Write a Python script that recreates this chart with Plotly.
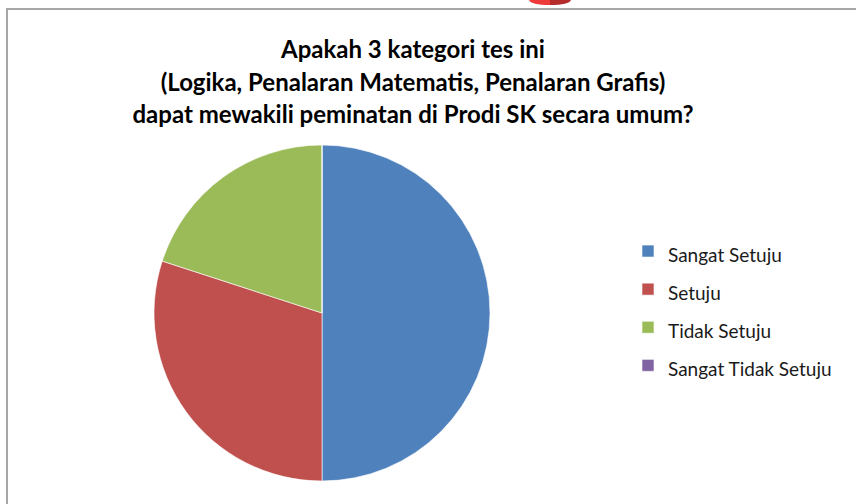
import plotly.graph_objects as go

categories = ["Sangat Setuju", "Setuju", "Tidak Setuju", "Sangat Tidak Setuju"]
values = [50, 30, 20, 0]
colors = ["#4f81bd", "#c0504d", "#9bbb59", "#8064a2"]
title_lines = [
    "Apakah 3 kategori tes ini",
    "(Logika, Penalaran Matematis, Penalaran Grafis)",
    "dapat mewakili peminatan di Prodi SK secara umum?",
]

W, H = 856, 504
labels = [f"<span style='font-size:19px'>{c}</span>" for c in categories]

fig = go.Figure(go.Pie(
    labels=labels,
    values=values,
    sort=False,
    direction="clockwise",
    rotation=0,
    marker=dict(colors=colors, line=dict(color="white", width=0.6)),
    textinfo="none",
    hoverinfo="label+value+percent",
    domain=dict(x=[(322 - 168) / W, (322 + 168) / W], y=[1 - 481 / H, 1 - 145 / H]),
))

title_text = "<br>".join(f"<span style='font-size:24px'>{t}</span>" for t in title_lines)

fig.update_layout(
    width=W, height=H,
    margin=dict(l=0, r=0, t=0, b=0),
    paper_bgcolor="white",
    font=dict(family="Lato, Carlito, Calibri, sans-serif", color="#000000"),
    title=dict(
        text="<b>" + title_text + "</b>",
        x=413 / W, xanchor="center",
        y=1 - 58 / H, yanchor="top",
        font=dict(size=25, family="Lato, sans-serif", color="#000000"),
    ),
    legend=dict(
        x=628 / W, xanchor="left",
        y=1 - 227 / H, yanchor="top",
        font=dict(size=27, family="Lato, sans-serif", color="#1a1a1a"),
        bgcolor="rgba(0,0,0,0)",
        itemclick=False,
    ),
    shapes=[
        dict(type="rect", xref="paper", yref="paper",
             x0=7 / W, x1=(W + 20) / W, y0=-20 / H, y1=1 - 9 / H,
             line=dict(color="#a6a6a6", width=2), layer="below"),
        dict(type="path", xref="paper", yref="paper",
             path=f"M {529/W},{1.0} Q {531/W},{1-5/H} {550/W},{1-5/H} L {550/W},{1.0} Z",
             fillcolor="#ee3a3a", line=dict(width=0)),
        dict(type="path", xref="paper", yref="paper",
             path=f"M {550/W},{1.0} L {550/W},{1-5/H} Q {569/W},{1-5/H} {571/W},{1.0} Z",
             fillcolor="#b42c2c", line=dict(width=0)),
    ],
)

fig.write_html(
    "out.html",
    config={"displayModeBar": False},
    post_script="document.body.style.margin='0';document.body.style.overflow='hidden';",
)
